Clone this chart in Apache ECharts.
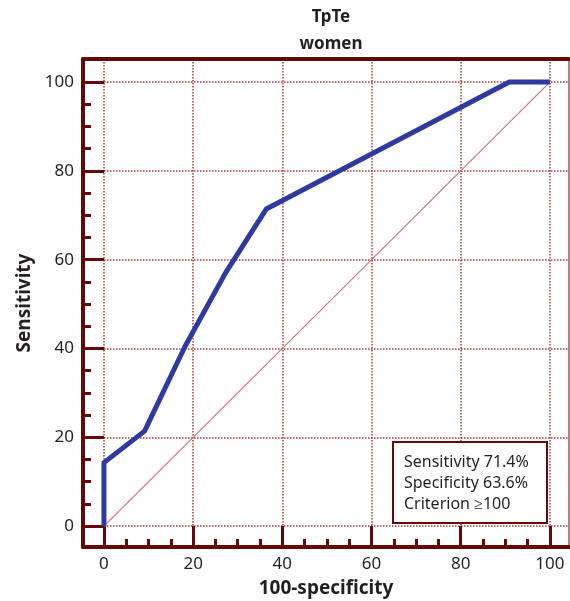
<!DOCTYPE html>
<html>
<head>
<meta charset="utf-8">
<script src="https://cdn.jsdelivr.net/npm/echarts@6/dist/echarts.min.js"></script>
<style>
html, body { margin: 0; padding: 0; background: #fff; }
#main { width: 570px; height: 601px; }
</style>
</head>
<body>
<div id="main"></div>
<script>
// ROC 曲线 TpTe women
var rocX = [0, 0, 9.1, 18.2, 27.3, 36.4, 90.9, 100];
var rocY = [0, 14.3, 21.4, 40.5, 57.1, 71.4, 100, 100];
var diagX = [0, 100];
var diagY = [0, 100];
var majorTicks = [0, 20, 40, 60, 80, 100];
var minorTicks = [5, 10, 15, 25, 30, 35, 45, 50, 55, 65, 70, 75, 85, 90, 95];
var infoLines = ['Sensitivity 71.4%', 'Specificity 63.6%', 'Criterion \u2265100'];

var frameColor = '#650808';
var gridColor = '#a63a3a';
var fontName = 'Noto Sans';

function pairs(xs, ys) {
    var out = [];
    for (var i = 0; i < xs.length; i++) out.push([xs[i], ys[i]]);
    return out;
}

var dom = document.getElementById('main');
var myChart = echarts.init(dom);

var xMin = -4.7, xMax = 104.3;
var yMin = -4.7, yMax = 105.2;

var option = {
    animation: false,
    title: [
        {
            text: 'TpTe\nwomen',
            left: 326,
            top: -1,
            textAlign: 'center',
            textStyle: { fontFamily: fontName, fontSize: 17, fontWeight: 'bold', color: '#231f20', lineHeight: 27 }
        },
        {
            text: infoLines.join('\n'),
            left: 393,
            top: 442,
            padding: [10, 18, 8, 11],
            borderColor: frameColor,
            borderWidth: 2,
            backgroundColor: '#fff',
            textStyle: { fontFamily: fontName, fontSize: 16, fontWeight: 'normal', color: '#231f20', lineHeight: 21 }
        }
    ],
    grid: {
        left: 83, right: 1, top: 59, bottom: 54,
        outerBoundsMode: 'none',
        show: true, borderColor: frameColor, borderWidth: 1
    },
    xAxis: [
        {
            type: 'value', min: xMin, max: xMax, position: 'bottom',
            name: '100-specificity', nameLocation: 'middle', nameGap: 32,
            nameTextStyle: { fontFamily: fontName, fontSize: 19, fontWeight: 'bold', color: '#231f20' },
            axisLine: { onZero: false, lineStyle: { color: frameColor, width: 4 } },
            axisTick: { inside: true, length: 21, customValues: majorTicks, lineStyle: { color: frameColor, width: 3 } },
            axisLabel: { customValues: majorTicks, margin: 9, fontFamily: fontName, fontSize: 17, color: '#231f20' },
            splitLine: { show: true, lineStyle: { color: gridColor, type: 'dotted', width: 1.5 } }
        },
        {
            type: 'value', min: xMin, max: xMax, position: 'bottom',
            axisLine: { show: false, onZero: false },
            axisTick: { inside: true, length: 8, customValues: minorTicks, lineStyle: { color: frameColor, width: 3 } },
            axisLabel: { show: false },
            splitLine: { show: false }
        },
        {
            type: 'value', min: xMin, max: xMax, position: 'top',
            axisLine: { onZero: false, lineStyle: { color: frameColor, width: 4 } },
            axisTick: { show: false },
            axisLabel: { show: false },
            splitLine: { show: false }
        }
    ],
    yAxis: [
        {
            type: 'value', min: yMin, max: yMax, position: 'left',
            name: 'Sensitivity', nameLocation: 'middle', nameGap: 48, nameRotate: 90,
            nameTextStyle: { fontFamily: fontName, fontSize: 19, fontWeight: 'bold', color: '#231f20' },
            axisLine: { onZero: false, lineStyle: { color: frameColor, width: 4 } },
            axisTick: { inside: true, length: 21, customValues: majorTicks, lineStyle: { color: frameColor, width: 3 } },
            axisLabel: { customValues: majorTicks, margin: 9, fontFamily: fontName, fontSize: 17, color: '#231f20' },
            splitLine: { show: true, lineStyle: { color: gridColor, type: 'dotted', width: 1.5 } }
        },
        {
            type: 'value', min: yMin, max: yMax, position: 'left',
            axisLine: { show: false, onZero: false },
            axisTick: { inside: true, length: 8, customValues: minorTicks, lineStyle: { color: frameColor, width: 3 } },
            axisLabel: { show: false },
            splitLine: { show: false }
        }
    ],
    series: [
        {
            name: 'diagonal',
            type: 'line',
            xAxisIndex: 0, yAxisIndex: 0,
            symbol: 'none',
            data: pairs(diagX, diagY),
            lineStyle: { color: '#cc7474', width: 1.2 },
            z: 2
        },
        {
            name: 'TpTe',
            type: 'line',
            xAxisIndex: 0, yAxisIndex: 0,
            symbol: 'none',
            data: pairs(rocX, rocY),
            lineStyle: { color: '#2e3a9f', width: 5, join: 'round' },
            z: 3
        }
    ]
};

myChart.setOption(option, true);
</script>
</body>
</html>
